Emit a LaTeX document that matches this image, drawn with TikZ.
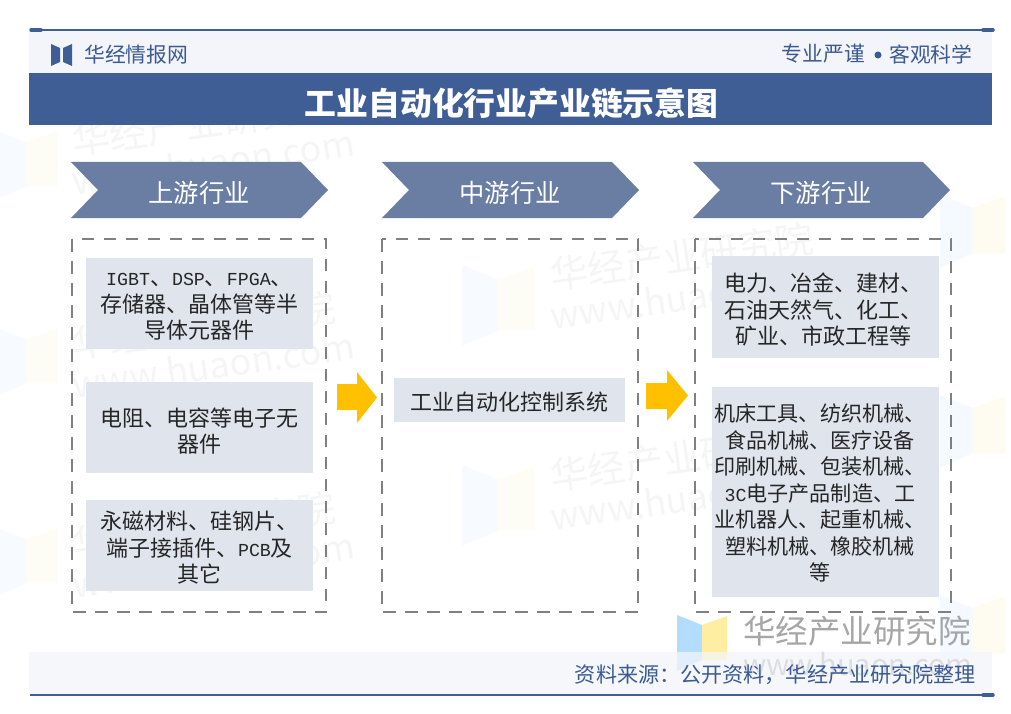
\documentclass[tikz,border=0pt]{standalone}
\usepackage{fontspec}
\setmainfont{Noto Sans CJK SC}
\newfontfamily\latinfont{Liberation Mono}
\definecolor{bandblue}{HTML}{3F5E96}
\definecolor{chevblue}{HTML}{6A7DA3}
\definecolor{paleband}{HTML}{F3F5FA}
\definecolor{itemgray}{HTML}{E0E4ED}
\definecolor{headtext}{HTML}{3A5A94}
\definecolor{markgold}{HTML}{FFC000}
\newcommand{\fs}[2]{\fontsize{#1}{#2}\selectfont}
\newcommand{\lat}[1]{{\latinfont\fs{18.3}{26.5}#1}}
\newcommand{\wmlogo}[4]{%
    \begin{scope}[shift={(#1,#2)},scale=#3,opacity=#4]
        \fill[blue!45!cyan!30] (0,0) -- (25,10) -- (25,45) -- (0,56) -- cycle;
        \fill[yellow!70!orange!35] (25,10) -- (50,1) -- (50,45) -- (25,45) -- cycle;
    \end{scope}}
\newcommand{\wmtext}[2]{%
    \node[wmfaint,font=\fs{38}{38}] at (#1,#2) {华经产业研究院};
    \node[wmfaint,font=\fs{36}{36}] at (#1,#2+41) {www.huaon.com};}
\tikzset{
    wmfaint/.style={text=black!35,opacity=.1,anchor=west,inner sep=0pt,rotate=8},
    itembox/.style={fill=itemgray,inner sep=0pt},
    itemtext/.style={text=black!85,font=\fs{22}{26.5},align=center,inner sep=0pt},
    dashbox/.style={draw=black!50,line width=2.1pt,dash pattern=on 12.5pt off 9.5pt},
    stagelabel/.style={text=white,font=\fs{25.3}{25}},
    capline/.style={draw=bandblue,line width=1.2pt},
    capend/.style={draw=bandblue,line width=3.5pt,line cap=round},
}
\begin{document}
\begin{tikzpicture}[x=1pt,y=-1pt]
    \useasboundingbox (0,0) rectangle (1011,714);
    \fill[white] (0,0) rectangle (1011,714);
    % faint marks behind everything
    \wmlogo{-5}{130}{1.25}{.1}
    \wmlogo{-5}{327}{1.25}{.1}
    \wmlogo{-5}{527}{1.25}{.1}
    \wmlogo{462}{265}{1.45}{.1}
    \wmlogo{462}{465}{1.45}{.1}
    \wmlogo{940}{195}{1.3}{.14}
    \wmlogo{940}{395}{1.3}{.14}
    \wmlogo{940}{595}{1.3}{.14}
    \wmtext{72}{141}
    \wmtext{72}{344}
    \wmtext{72}{544}
    \wmtext{550}{275}
    \wmtext{550}{476}
    % bottom mark
    \wmlogo{677}{615}{1}{1}
    \node[text=black!35,anchor=west,inner sep=0pt,font=\fs{32.5}{32.5}] (markcn) at (743,631) {华经产业研究院};
    \node[text=black!40,anchor=west,inner sep=0pt,font=\fs{29}{29}] (markweb) at (743,664) {www.huaon.com};
    % header
    \fill[paleband] (29,31) rectangle (992,73);
    \fill[bandblue] (29,73) rectangle (992,125);
    \fill[paleband,opacity=.75] (29,652) rectangle (992,695);
    \coordinate (TL) at (30,30);
    \coordinate (TR) at (992,30);
    \coordinate (BL) at (30,695);
    \coordinate (BR) at (992,695);
    \draw[capline] (TL) -- (TR);
    \draw[capline] (BL) -- (BR);
    \draw[capend] (31,30) -- (41,30);
    \draw[capend] (983,30) -- (993,30);
    \draw[capend] (983,695) -- (993,695);
    \fill[bandblue] (51,44) -- (60,48) -- (60,62) -- (51,66) -- cycle;
    \fill[bandblue] (72,44) -- (63,48) -- (63,62) -- (72,66) -- cycle;
    \node[text=headtext,font=\fs{20.8}{21},anchor=west,inner sep=0pt] (brand) at (84,55) {华经情报网};
    \node[text=headtext,font=\fs{20.8}{21},anchor=east,inner sep=0pt] (mottoa) at (865,54) {专业严谨};
    \fill[headtext] (878,55) circle (3.5);
    \node[text=headtext,font=\fs{20.8}{21},anchor=west,inner sep=0pt] (mottob) at (889,54) {客观科学};
    \node[text=white,font=\fs{31.8}{32}\bfseries,inner sep=0pt] (title) at (511.5,103) {工业自动化行业产业链示意图};
    % stages
    \foreach \nm/\x/\txt in {up/71/上游行业,mid/382/中游行业,down/693/下游行业}{
        \fill[chevblue] (\x,162) -- (\x+230,162) -- (\x+257,190) -- (\x+230,218) -- (\x,218) -- (\x+27,190) -- cycle;
        \node[stagelabel] (\nm) at (\x+128,193) {\txt};
    }
    \draw[dashbox] (72,239) rectangle (326,612);
    \draw[dashbox] (382,239) rectangle (638,612);
    \draw[dashbox] (695,239) rectangle (951,612);
    % upstream
    \node[itembox,minimum width=227pt,minimum height=91pt] (upa) at (199.5,303.5) {};
    \node[itemtext] (upatxt) at (199.5,307) {\lat{IGBT}、\lat{DSP}、\lat{FPGA}、\\存储器、晶体管等半\\导体元器件};
    \node[itembox,minimum width=227pt,minimum height=91pt] (upb) at (199.5,427.5) {};
    \node[itemtext] (upbtxt) at (199.5,431) {电阻、电容等电子无\\器件};
    \node[itembox,minimum width=227pt,minimum height=91pt] (upc) at (199.5,545.5) {};
    \node[itemtext] (upctxt) at (199.5,548) {永磁材料、硅钢片、\\端子接插件、\lat{PCB}及\\其它};
    % midstream
    \node[itembox,minimum width=231pt,minimum height=44pt] (mida) at (509.5,400) {};
    \node[itemtext] (midatxt) at (509.5,402) {工业自动化控制系统};
    % downstream
    \node[itembox,minimum width=227pt,minimum height=102pt] (downa) at (825.5,307) {};
    \node[itemtext] (downatxt) at (823.5,310) {电力、冶金、建材、\\石油天然气、化工、\\矿业、市政工程等};
    \node[itembox,minimum width=227pt,minimum height=210pt] (downb) at (825.5,492) {};
    \node[itemtext,font=\fs{21.1}{26.5}] (downbtxt) at (820,493) {机床工具、纺织机械、\\食品机械、医疗设备\\印刷机械、包装机械、\\\lat{3C}电子产品制造、工\\业机器人、起重机械、\\塑料机械、橡胶机械\\等};
    % flow
    \fill[markgold] (337,384) -- (357,384) -- (357,372) -- (377,397.5) -- (357,423) -- (357,410) -- (337,410) -- cycle;
    \fill[markgold] (646,383) -- (667,383) -- (667,370) -- (688,395.5) -- (667,421) -- (667,409) -- (646,409) -- cycle;
    % source
    \node[text=headtext,font=\fs{21.1}{22},anchor=east,inner sep=0pt] (source) at (976,675) {资料来源：公开资料，华经产业研究院整理};
\end{tikzpicture}
\end{document}
